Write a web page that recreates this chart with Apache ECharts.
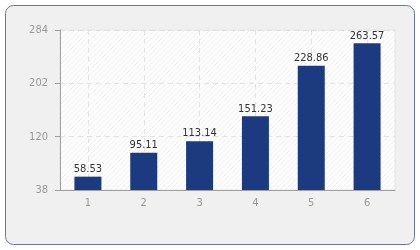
<!DOCTYPE html>
<html>
<head>
<meta charset="utf-8">
<script src="https://cdn.jsdelivr.net/npm/echarts@6/dist/echarts.min.js"></script>
<style>
  html, body { margin: 0; padding: 0; background: #fff; }
  #main { width: 420px; height: 250px; }
</style>
</head>
<body>
<div id="main"></div>
<script>
let categories = ['1', '2', '3', '4', '5', '6'];
let values = [58.53, 95.11, 113.14, 151.23, 228.86, 263.57];
let yMin = 38;
let yMax = 284;
let yStep = 82;

// faint diagonal hatch for the plot background
let hatch = document.createElement('canvas');
hatch.width = 5;
hatch.height = 5;
let ctx = hatch.getContext('2d');
ctx.fillStyle = '#ffffff';
ctx.fillRect(0, 0, 5, 5);
ctx.strokeStyle = '#eeeeee';
ctx.lineWidth = 1;
ctx.beginPath();
ctx.moveTo(-1, 6);
ctx.lineTo(6, -1);
ctx.stroke();

let font = '"DejaVu Sans Condensed", "Liberation Sans", sans-serif';

let myChart = echarts.init(document.getElementById('main'));
myChart.setOption({
    animation: false,
    textStyle: { fontFamily: font },
    graphic: [{
        type: 'rect',
        z: -10,
        silent: true,
        shape: { x: 5.5, y: 5.5, width: 409, height: 239, r: 8 },
        style: { fill: '#f0f0f0', stroke: '#6a76a0', lineWidth: 1 }
    }],
    grid: {
        left: 60,
        top: 30,
        right: 25,
        bottom: 60,
        show: true,
        borderColor: '#e4e4e4',
        borderWidth: 1,
        backgroundColor: { image: hatch, repeat: 'repeat' }
    },
    xAxis: {
        type: 'category',
        data: categories,
        axisLine: { lineStyle: { color: '#a0a0a0' } },
        axisTick: { alignWithLabel: true, length: 5, lineStyle: { color: '#a0a0a0' } },
        axisLabel: { color: '#999', fontSize: 11, margin: 8, fontFamily: font },
        splitLine: {
            show: true,
            alignWithLabel: true,
            interval: 0,
            lineStyle: { color: '#e2e2e2', type: [5, 4] }
        }
    },
    yAxis: {
        type: 'value',
        min: yMin,
        max: yMax,
        interval: yStep,
        axisLine: { show: true, lineStyle: { color: '#a0a0a0' } },
        axisTick: { show: true, length: 5, lineStyle: { color: '#a0a0a0' } },
        axisLabel: { color: '#999', fontSize: 11, margin: 12, fontFamily: font },
        splitLine: { lineStyle: { color: '#e2e2e2', type: [5, 4] } }
    },
    series: [{
        type: 'bar',
        data: values,
        barWidth: 27,
        itemStyle: { color: '#1b3a80' },
        label: {
            show: true,
            position: 'top',
            distance: 2,
            color: '#333',
            fontSize: 11,
            fontFamily: font
        }
    }]
});
</script>
</body>
</html>
